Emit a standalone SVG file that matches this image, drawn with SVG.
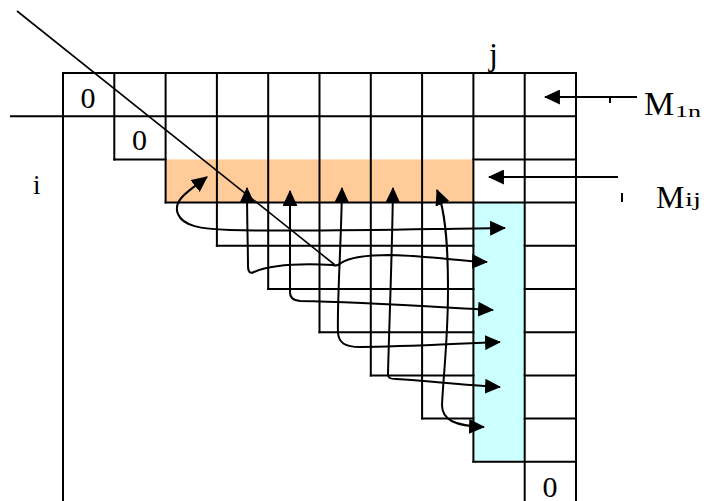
<svg xmlns="http://www.w3.org/2000/svg" width="704" height="501" viewBox="0 0 704 501">
<style>
.g{stroke:#000;stroke-width:2;fill:none;stroke-linecap:square}
.c{stroke:#000;stroke-width:2;fill:none}
.t{font-family:"Liberation Serif","Times New Roman",serif;fill:#000}
.z{font-size:30px;text-anchor:middle}
</style>
<defs>
<marker id="ah" markerUnits="userSpaceOnUse" markerWidth="16" markerHeight="15" viewBox="0 0 15 14" refX="14" refY="7" orient="auto-start-reverse">
<path d="M0,0 L15,7 L0,14 z" fill="#000"/>
</marker>
</defs>
<rect width="704" height="501" fill="#fff"/>
<g id="fills">
<rect x="165.6" y="159.4" width="307.8" height="43.2" fill="#FFCC99"/>
<rect x="473.4" y="202.6" width="51.3" height="259.2" fill="#CCFFFF"/>
</g>
<g id="grid" class="g">
<path d="M63,73H576 M11,116.2H576 M114.3,159.4H165.6 M473.4,159.4H576 M165.6,202.6H576 M216.9,245.8H473.4 M524.7,245.8H576 M268.2,289H473.4 M524.7,289H576 M319.5,332.2H473.4 M524.7,332.2H576 M370.8,375.4H473.4 M524.7,375.4H576 M422.1,418.6H473.4 M524.7,418.6H576 M473.4,461.8H576"/>
<path d="M63,73V502 M114.3,73V159.4 M165.6,73V202.6 M216.9,73V245.8 M268.2,73V289 M319.5,73V332.2 M370.8,73V375.4 M422.1,73V418.6 M473.4,73V461.8 M524.7,73V502 M576,73V502"/>
</g>
<g id="labels">
<text class="t z" x="88" y="107.5">0</text>
<text class="t z" x="139.5" y="149.5">0</text>
<text class="t z" x="550" y="496.5">0</text>
<text class="t" x="33" y="194" font-size="27">i</text>
<text class="t" x="489" y="65" font-size="32">j</text>
<text class="t" x="644" y="115" font-size="34">M</text>
<text class="t" x="675" y="117" font-size="17" textLength="26" lengthAdjust="spacingAndGlyphs">1n</text>
<text class="t" x="656" y="208" font-size="32">M</text>
<text class="t" x="685" y="206" font-size="19" textLength="16" lengthAdjust="spacingAndGlyphs">ij</text>
</g>
<g id="connectors">
<path d="M17,11 L335,265" stroke="#000" stroke-width="1.6" fill="none"/>
<path class="c" d="M637,97 H545" marker-end="url(#ah)"/>
<path class="c" d="M618,177 H489" marker-end="url(#ah)"/>
<path d="M610,97 V103 M622,193 V202" stroke="#000" stroke-width="2"/>
<path class="c" d="M207,177 C190,190 172,200 178,214 C183,226 200,229 230,230 C320,232 420,229 505,228" marker-start="url(#ah)" marker-end="url(#ah)"/>
<path class="c" d="M247,188 C247,220 248,250 248,266 C248,272 250,274 254,272 C268,266 295,263 333,265 C336,266 338,266 341,263 C350,257 365,255 390,255 C430,256 460,261 487,262" marker-start="url(#ah)" marker-end="url(#ah)"/>
<path class="c" d="M290,191 L290,292 C290,298 293,300 300,301 C360,302 420,306 493,310" marker-start="url(#ah)" marker-end="url(#ah)"/>
<path class="c" d="M342,188 C341,250 337,300 338,333 C339,343 345,347 360,347 C400,347 450,344 500,342" marker-start="url(#ah)" marker-end="url(#ah)"/>
<path class="c" d="M393,188 C392,260 389,330 388,374 C388,378 390,379 396,379 C430,381 460,385 500,387" marker-start="url(#ah)" marker-end="url(#ah)"/>
<path class="c" d="M437,190 C445,210 448,240 448,290 C448,340 443,380 442,405 C442,420 455,426 484,427" marker-start="url(#ah)" marker-end="url(#ah)"/>
</g>
</svg>
